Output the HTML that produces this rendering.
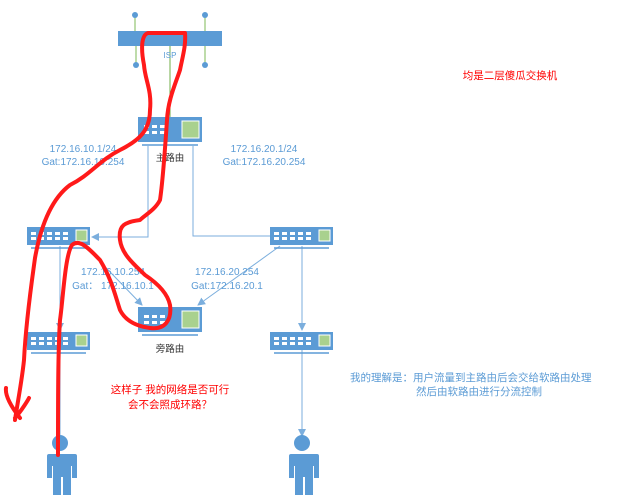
<!DOCTYPE html>
<html><head><meta charset="utf-8"><style>
html,body{margin:0;padding:0;background:#fff}
svg{display:block}
text{font-family:"Liberation Sans","Noto Sans CJK SC",sans-serif}
</style></head><body>
<svg width="636" height="495" viewBox="0 0 636 495" xmlns="http://www.w3.org/2000/svg">
<defs>
<marker id="a" markerWidth="8" markerHeight="8" refX="7" refY="4" orient="auto" markerUnits="userSpaceOnUse"><path d="M0,0 L8,4 L0,8 z" fill="#5b9bd5"/></marker>
<g id="sw">
<rect x="0" y="0" width="63" height="18" fill="#5b9bd5"/>
<g fill="#fff"><rect x="4" y="5" width="5" height="3"/><rect x="12" y="5" width="5" height="3"/><rect x="20" y="5" width="5" height="3"/><rect x="28" y="5" width="5" height="3"/><rect x="36" y="5" width="5" height="3"/>
<rect x="4" y="10" width="5" height="3"/><rect x="12" y="10" width="5" height="3"/><rect x="20" y="10" width="5" height="3"/><rect x="28" y="10" width="5" height="3"/><rect x="36" y="10" width="5" height="3"/></g>
<rect x="49" y="3" width="11" height="11" fill="#a9d18e" stroke="#fff" stroke-width="1"/>
<line x1="4" y1="21" x2="59" y2="21" stroke="#5b9bd5" stroke-width="1.5"/>
</g>
<g id="rt">
<rect x="0" y="0" width="64" height="25" fill="#5b9bd5"/>
<g fill="#fff"><rect x="6" y="8" width="5" height="3"/><rect x="14" y="8" width="5" height="3"/><rect x="22" y="8" width="5" height="3"/>
<rect x="6" y="14" width="5" height="3"/><rect x="14" y="14" width="5" height="3"/><rect x="22" y="14" width="5" height="3"/></g>
<rect x="44" y="4" width="17" height="17" fill="#a9d18e" stroke="#fff" stroke-width="1"/>
<line x1="4" y1="28" x2="60" y2="28" stroke="#5b9bd5" stroke-width="1.5"/>
</g>
<g id="person" fill="#5b9bd5">
<circle cx="0" cy="11" r="8"/>
<path d="M-15,22 h30 a2,2 0 0 1 2,2 v22 h-5 v-12 h-1 v29 h-8 v-18 h-2 v18 h-8 v-29 h-1 v12 h-5 v-22 a2,2 0 0 1 2,-2 z"/>
</g>
</defs>

<!-- ISP -->
<g stroke="#a9d18e" stroke-width="1.5"><line x1="135" y1="15" x2="135" y2="31"/><line x1="205" y1="15" x2="205" y2="31"/><line x1="136" y1="46" x2="136" y2="65"/><line x1="205" y1="46" x2="205" y2="65"/></g>
<line x1="170" y1="46" x2="170" y2="117" stroke="#70ad47" stroke-width="1"/>
<rect x="118" y="31" width="104" height="15" fill="#5b9bd5"/>
<g fill="#5b9bd5"><circle cx="135" cy="15" r="3"/><circle cx="205" cy="15" r="3"/><circle cx="136" cy="65" r="3"/><circle cx="205" cy="65" r="3"/></g>
<text x="170" y="58" font-size="8" fill="#5b9bd5" text-anchor="middle">ISP</text>

<!-- connectors -->
<g stroke="#5b9bd5" stroke-width="1" fill="none" opacity="0.8">
<polyline points="148,146 148,237 92,237" marker-end="url(#a)"/>
<polyline points="193,146 193,236 270,236"/>
<line x1="85" y1="246" x2="142" y2="305" marker-end="url(#a)"/>
<line x1="280" y1="246" x2="198" y2="305" marker-end="url(#a)"/>
<line x1="60" y1="246" x2="60" y2="330" marker-end="url(#a)"/>
<line x1="302" y1="246" x2="302" y2="330" marker-end="url(#a)"/>
<line x1="302" y1="350" x2="302" y2="436" marker-end="url(#a)"/>
<line x1="60" y1="350" x2="60" y2="436"/>
</g>

<use href="#rt" x="138" y="117"/>
<use href="#rt" x="138" y="307"/>
<use href="#sw" x="27" y="227"/>
<use href="#sw" x="270" y="227"/>
<use href="#sw" x="27" y="332"/>
<use href="#sw" x="270" y="332"/>
<use href="#person" x="60" y="432"/>
<use href="#person" x="302" y="432"/>

<g font-size="9.5" fill="#333" text-anchor="middle"><text x="170" y="161">主路由</text><text x="170" y="352">旁路由</text></g>
<g font-size="10" fill="#5b9bd5" text-anchor="middle">
<text x="83" y="152">172.16.10.1/24</text><text x="83" y="165">Gat:172.16.10.254</text>
<text x="264" y="152">172.16.20.1/24</text><text x="264" y="165">Gat:172.16.20.254</text>
<text x="113" y="275">172.16.10.254</text><text x="113" y="289">Gat： 172.16.10.1</text>
<text x="227" y="275">172.16.20.254</text><text x="227" y="289">Gat:172.16.20.1</text>
</g>
<g font-size="10.5" fill="#ff0000" text-anchor="middle">
<text x="510" y="79">均是二层傻瓜交换机</text>
<text x="170" y="393">这样子 我的网络是否可行</text>
<text x="170" y="408">会不会照成环路？</text>
</g>
<g font-size="10.5" fill="#5b9bd5">
<text x="350" y="381">我的理解是：用户流量到主路由后会交给软路由处理</text>
<text x="416" y="395">然后由软路由进行分流控制</text>
</g>

<!-- red scribble -->
<path d="M20,418 C10,405 5,395 6,388 M15,418 C22,410 28,400 29,398 M15,420 C18,400 22,380 24,360 C26,320 32,280 35,258 C40,230 50,200 70,185 C90,175 100,160 120,150 C140,140 150,130 150,110 C152,90 145,80 144,65 C141,50 141,35 148,33 L185,33 C186,45 183,55 180,70 C175,85 168,100 167,120 C165,150 163,180 160,200 C155,210 145,215 140,220 C125,222 118,225 120,240 C122,255 135,265 145,275 C160,285 168,295 170,305 C172,320 165,330 150,328 C135,326 125,320 120,310 C115,295 112,280 100,260 C90,250 80,238 72,245 C65,255 63,300 60,320 C58,350 58,400 58,455" stroke="#ff1a1a" stroke-width="4" fill="none" stroke-linecap="round" stroke-linejoin="round"/>
</svg>
</body></html>
